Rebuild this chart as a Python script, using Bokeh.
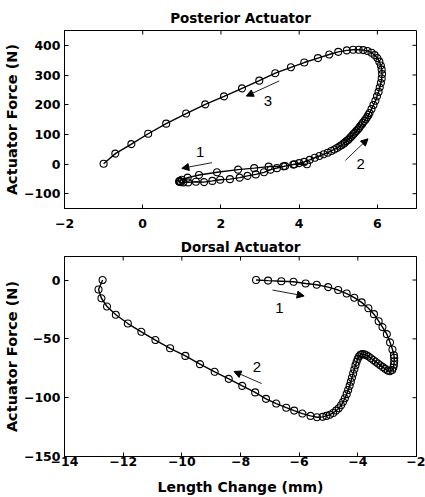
import math
from bokeh.plotting import figure
from bokeh.layouts import column
from bokeh.models import Range1d, FixedTicker, Arrow, NormalHead, Label
from bokeh.embed import file_html
from bokeh.resources import INLINE

FONT = "DejaVu Sans"
NUMFONT = "Liberation Sans"

# ---------------- Posterior actuator (length change mm, force N) ----------------
post_x = [4.2, 3.88, 3.6, 3.22, 2.85, 2.44, 1.9, 1.44, 1.15, 1.0, 0.95, 0.93, 0.94, 0.97,
          1.04, 1.16, 1.36, 1.57, 1.78, 1.98, 2.23, 2.48, 2.68, 2.89, 3.1, 3.27, 3.43, 3.64,
          3.85, 4.0, 4.13, 4.27, 4.4, 4.52, 4.63, 4.73, 4.82, 4.9, 4.97, 5.03, 5.08, 5.13,
          5.17, 5.21, 5.25, 5.29, 5.32, 5.36, 5.39, 5.43, 5.46, 5.5, 5.53, 5.56, 5.6, 5.63,
          5.67, 5.7, 5.74, 5.77, 5.8, 5.85, 5.9, 5.95, 5.99, 6.03, 6.06, 6.09, 6.11, 6.12,
          6.11, 6.09, 6.05, 6.0, 5.93, 5.85, 5.75, 5.64, 5.52, 5.38,
          5.22, 5.0, 4.77, 4.48, 4.13, 3.79, 3.39, 2.98, 2.54, 2.08, 1.6, 1.11, 0.6, 0.14,
          -0.29, -0.7, -1.0]
post_y = [-1, -1, -8, -9, -14, -19, -28, -37, -46, -53, -57, -59, -60, -61,
          -62, -62, -60, -61, -57, -53, -51, -46, -40, -35, -28, -19, -14, -7,
          -2, 3, 7, 14, 21, 27, 33, 38, 44, 49, 54, 59, 63, 68,
          72, 77, 81, 86, 91, 96, 101, 106, 111, 116, 121, 127, 133, 139,
          145, 151, 158, 165, 172, 185, 199, 213, 228, 243, 258, 273, 288, 303,
          318, 332, 345, 357, 367, 375, 381, 384, 385, 385,
          383, 378, 369, 357, 342, 326, 306, 281, 255, 228, 201, 170, 136, 102,
          67, 35, 1]
post_xticks = [-2, 0, 2, 4, 6]
post_yticks = [-100, 0, 100, 200, 300, 400]
post_xrange = (-2, 7)
post_yrange = (-150, 450)
post_arrows = [((1.77, 4.5), (1.0, -14.6), "1", (1.47, 41)),
               ((5.18, 12), (5.76, 85), "2", (5.57, -1)),
               ((3.49, 280), (2.65, 229), "3", (3.2, 212))]

# ---------------- Dorsal actuator ----------------
dors_x = [-7.47, -7.06, -6.61, -6.19, -5.78, -5.4, -5.01, -4.67, -4.38, -4.12, -3.87, -3.64,
          -3.45, -3.29, -3.16, -3.01, -2.9, -2.82, -2.77, -2.76, -2.76, -2.77, -2.79, -2.83,
          -2.9, -2.98, -3.07, -3.15, -3.23, -3.31, -3.39, -3.47, -3.55, -3.63, -3.71, -3.78,
          -3.85, -3.91, -3.96, -4.0, -4.04, -4.08, -4.12, -4.16, -4.2, -4.24, -4.28, -4.33,
          -4.38, -4.44, -4.5, -4.57, -4.65, -4.74, -4.84, -4.95, -5.07, -5.2, -5.39, -5.61,
          -5.89, -6.17, -6.44, -6.78, -7.13, -7.5, -7.94, -8.4, -8.88, -9.38, -9.88, -10.4,
          -10.9, -11.38, -11.84, -12.25, -12.55, -12.74, -12.84, -12.7]
dors_y = [0, -0.5, -1, -1.5, -3, -4, -6, -8.5, -11.5, -15, -19, -24,
          -29, -35, -40, -46, -53, -59, -64, -66, -69, -72, -74.5, -76.5,
          -77.5, -77, -75.5, -74, -72.5, -71, -69.5, -68, -66.5, -65, -64, -63.2,
          -63, -63.5, -65, -67, -69.5, -72.5, -76, -79.5, -83, -86.5, -90, -93.5,
          -97, -100.5, -103.5, -106.5, -109, -111, -113, -114.5, -115.5, -116.3, -116.6, -115.5,
          -113.5, -111, -108.5, -105, -101, -95.5, -90, -84, -78, -71.5, -64.5, -58,
          -51, -44, -37, -29.5, -22.5, -15.5, -8, 0]
dors_xticks = [-14, -12, -10, -8, -6, -4, -2]
dors_yticks = [-150, -100, -50, 0]
dors_xrange = (-14, -2)
dors_yrange = (-150, 20)
dors_arrows = [((-6.91, -8.5), (-5.83, -13.5), "1", (-6.67, -23.5)),
               ((-7.28, -88), (-8.22, -77.7), "2", (-7.44, -74))]


def make(title, xs, ys, xr, yr, xt, yt, arrows, fh, top, bottom, tstand, lstand, xlabel):
    p = figure(frame_width=352, frame_height=fh, x_range=Range1d(*xr), y_range=Range1d(*yr),
               output_backend="svg", toolbar_location=None,
               min_border_left=56, min_border_right=9,
               min_border_top=top, min_border_bottom=bottom)
    p.title.text = title
    p.title.align = "center"
    p.title.text_font = FONT
    p.title.text_font_size = "13.5px"
    p.title.text_font_style = "bold"
    p.title.text_color = "black"
    p.title.standoff = tstand
    p.grid.visible = False
    p.outline_line_color = "black"
    p.outline_line_width = 1
    p.outline_line_alpha = 1
    p.background_fill_color = "white"
    p.border_fill_color = "white"

    for ax in (p.xaxis[0], p.yaxis[0]):
        ax.major_tick_in = 4
        ax.major_tick_out = 0
        ax.minor_tick_in = 0
        ax.minor_tick_out = 0
        ax.minor_tick_line_color = None
        ax.major_label_text_font = FONT
        ax.major_label_text_font_size = "12.5px"
        ax.major_label_text_font_style = "bold"
        ax.major_label_text_color = "black"
        ax.axis_line_color = "black"
        ax.major_tick_line_color = "black"
        ax.axis_label_text_font = FONT
        ax.axis_label_text_font_size = "14.5px"
        ax.axis_label_text_font_style = "bold"
        ax.axis_label_text_color = "black"
    p.xaxis[0].ticker = FixedTicker(ticks=xt)
    p.yaxis[0].ticker = FixedTicker(ticks=yt)
    p.xaxis[0].major_label_standoff = lstand
    p.yaxis[0].major_label_standoff = 4
    p.yaxis[0].axis_label = "Actuator Force (N)"
    p.yaxis[0].axis_label_standoff = 1
    if xlabel:
        p.xaxis[0].axis_label = xlabel
        p.xaxis[0].axis_label_text_font_size = "14px"
        p.xaxis[0].axis_label_standoff = 10

    # inward box ticks on the top and right edges (clipped to the frame)
    p.scatter(xt, [yr[1]] * len(xt), marker="dash", angle=math.pi / 2, size=8,
              line_color="black", line_width=1)
    p.scatter([xr[1]] * len(yt), yt, marker="dash", angle=0, size=8,
              line_color="black", line_width=1)

    p.line(xs, ys, line_color="black", line_width=1.4)
    p.scatter(xs, ys, marker="circle", size=7, fill_color=None,
              line_color="black", line_width=1.1)

    for (tail, head, txt, lp) in arrows:
        p.add_layout(Arrow(x_start=tail[0], y_start=tail[1], x_end=head[0], y_end=head[1],
                           line_color="#222222", line_width=1,
                           end=NormalHead(size=7, fill_color="black", line_color="black")))
        p.add_layout(Label(x=lp[0], y=lp[1], text=txt, text_font=NUMFONT,
                           text_font_size="15px", text_color="black",
                           text_align="center", text_baseline="middle"))
    return p


p1 = make("Posterior Actuator", post_x, post_y, post_xrange, post_yrange,
          post_xticks, post_yticks, post_arrows, 178, 30, 26, 10, 10, None)
p2 = make("Dorsal Actuator", dors_x, dors_y, dors_xrange, dors_yrange,
          dors_xticks, dors_yticks, dors_arrows, 200, 20, 0, 4, 0, "Length Change (mm)")

layout = column(p1, p2, spacing=0)
open("out.html", "w").write(file_html(layout, INLINE))
